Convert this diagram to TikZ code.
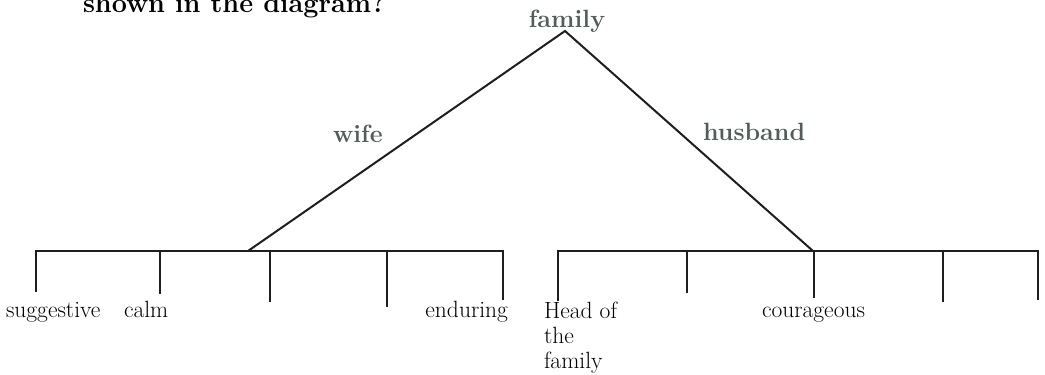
\documentclass[tikz,border=0pt]{standalone}
\usetikzlibrary{positioning}
\definecolor{labelgray}{RGB}{82,92,90}
\definecolor{linegray}{RGB}{30,30,30}
\tikzset{every picture/.style={line width=2pt}}
\tikzset{
	leaf/.style={font=\fontsize{23.5}{25}\selectfont, inner sep=0pt},
	branch/.style={font=\bfseries\fontsize{25}{28}\selectfont, text=labelgray, inner sep=0pt},
	bar/.style={line width=2.5pt, draw=linegray}}

\begin{document}
\begin{tikzpicture}[x=1pt,y=1pt,yscale=-1,xscale=1]
	\useasboundingbox (0,0) rectangle (1045,375);
	\clip (0,0) rectangle (1045,375);

	% Title Node
	\node[anchor=base west, inner sep=0pt, font=\bfseries\fontsize{27}{32}\selectfont] (title) at (82,12) {shown in the diagram?};

	%Straight Lines [top of the tree]
	\node[branch, anchor=base] (family) at (567,27) {family};
	\coordinate (top) at (565,31);
	\coordinate (wifej) at (248,251);
	\coordinate (husbj) at (813,251);
	\draw[draw=linegray] (wifej) -- (top) -- (husbj);

	% Text Node
	\node[branch, anchor=base west] (wife) at (332,142) {wife};
	% Text Node
	\node[branch, anchor=base west] (husband) at (702,140) {husband};

	%Shape: wife bar
	\foreach \x/\y [count=\i] in {36/292,160/294,270/302,387/307,503/300} {
		\coordinate (wt\i) at (\x,251);
		\coordinate (wb\i) at (\x,\y);
	}
	\draw[bar] (wb1) -- (wt1) -- (wt5) -- (wb5);
	\foreach \i in {2,3,4} \draw[bar] (wt\i) -- (wb\i);

	%Shape: husband bar
	\foreach \x/\y [count=\i] in {558/301,687/293,814/298,943/302,1038/300} {
		\coordinate (ht\i) at (\x,251);
		\coordinate (hb\i) at (\x,\y);
	}
	\draw[bar] (hb1) -- (ht1) -- (ht5) -- (hb5);
	\foreach \i in {2,3,4} \draw[bar] (ht\i) -- (hb\i);

	% Text Node
	\node[leaf, anchor=base west] (suggestive) at (5,317) {suggestive};
	% Text Node
	\node[leaf, anchor=base west] (calm) at (123,317) {calm};
	% Text Node
	\node[leaf, anchor=base east] (enduring) at (509,317) {enduring};
	% Text Node
	\node[leaf, anchor=north west, align=left] (head) at (543,300.5) {Head of\\the\\family};
	% Text Node
	\node[leaf, anchor=base west] (courageous) at (761,317) {courageous};

\end{tikzpicture}
\end{document}
